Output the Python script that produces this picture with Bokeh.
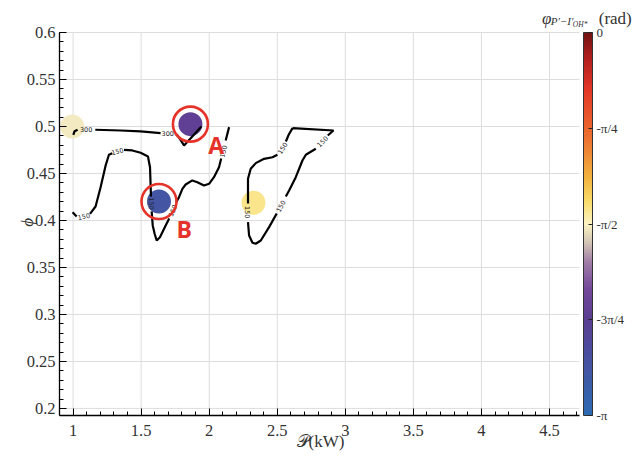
import numpy as np
from bokeh.plotting import figure
from bokeh.models import (LinearColorMapper, ColorBar, FixedTicker, SingleIntervalTicker,
                          NumeralTickFormatter, Label, Range1d, ColumnDataSource)
from bokeh.core.properties import value
from bokeh.embed import file_html
from bokeh.resources import INLINE

nan = float("nan")

# ---------------- data ----------------
# contour "300" (upper), NaN = gap for inline label
c300_x = [1.0015, 1.011, 1.033, nan, 1.163, 1.349, 1.496, 1.643, nan, 1.754, 1.768, 1.815, 1.943]
c300_y = [0.4912, 0.4950, 0.4965, nan, 0.4965, 0.4957, 0.4947, 0.4929, nan, 0.4922, 0.4904, 0.4798, 0.5000]

# contour "150" (left, open)
c150a_x = [0.996, 1.026, nan, 1.124, 1.165, 1.202, 1.239, 1.263, 1.288, nan, 1.374, 1.435, 1.496,
           1.550, 1.565, 1.570, 1.572, nan, 1.577, 1.585, 1.599, 1.614, 1.638, 1.680, 1.706, nan,
           1.757, 1.778, 1.803, 1.827, 1.876, 1.913, 1.962, 1.999, 2.035, 2.072, 2.088, nan,
           2.121, 2.146]
c150a_y = [0.4088, 0.4043, nan, 0.4071, 0.4149, 0.4354, 0.4585, 0.4699, 0.4716, nan, 0.4752, 0.4745,
           0.4720, 0.4681, 0.4567, 0.4354, 0.4255, nan, 0.4096, 0.3947, 0.3859, 0.3787, 0.3822,
           0.3947, 0.4021, nan, 0.4191, 0.4248, 0.4337, 0.4383, 0.4426, 0.4407, 0.4372, 0.4390,
           0.4461, 0.4567, 0.4660, nan, 0.4851, 0.4993]

# contour "150" (right, closed loop)
c150b_x = [2.612, 2.913, 2.871, nan, 2.783, 2.710, 2.685, 2.636, 2.587, 2.563, nan, 2.496, 2.440,
           2.379, 2.342, 2.318, 2.293, 2.285, nan, 2.285, 2.285, 2.305, 2.342, 2.403, 2.465, 2.501,
           nan, 2.563, 2.585, 2.612]
c150b_y = [0.4982, 0.4957, 0.4904, nan, 0.4763, 0.4699, 0.4638, 0.4461, 0.4319, 0.4255, nan, 0.4074,
           0.3929, 0.3787, 0.3752, 0.3763, 0.3840, 0.3982, nan, 0.4181, 0.4444, 0.4550, 0.4610,
           0.4656, 0.4673, 0.4699, nan, 0.4840, 0.4915, 0.4982]

# inline contour labels
lab_text = ["300", "300", "150", "150", "150", "150", "150", "150", "150", "150", "150"]
lab_x = [1.096, 1.695, 1.079, 1.325, 1.574, 1.732, 2.104, 2.832, 2.526, 2.285, 2.538]
lab_y = [0.4963, 0.4926, 0.4043, 0.4737, 0.4178, 0.4106, 0.4734, 0.4840, 0.4152, 0.4088, 0.4769]
lab_angle = [0, 0, 12, 14, -90, 66, 76, 45, 62, -90, 58]

# operating points and their phase (rad)
pt_x = [0.994, 1.862, 1.631, 2.325]
pt_y = [0.5000, 0.5025, 0.4202, 0.4188]
pt_phase = [-1.60, -2.30, -2.75, -1.46]

# highlighted points
ring_x = [1.862, 1.631]
ring_y = [0.5025, 0.4202]
ring_name = ["A", "B"]
ring_tx = [2.051, 1.816]
ring_ty = [0.4798, 0.3904]

# axes
x_min, x_max = 0.90, 4.72
y_min, y_max = 0.1925, 0.6
x_ticks = [1.0, 1.5, 2.0, 2.5, 3.0, 3.5, 4.0, 4.5]
y_ticks = [0.2, 0.25, 0.3, 0.35, 0.4, 0.45, 0.5, 0.55, 0.6]
x_label = "𝒫(kW)"
y_label = "ϕ"

cbar_ticks = [-np.pi, -3 * np.pi / 4, -np.pi / 2, -np.pi / 4, 0.0]
cbar_labels = ["-π", "-3π/4", "-π/2", "-π/4", "0"]

# ---------------- colormap ----------------
anchors = [
    (0.00, "#2c6bb3"), (0.12, "#4355a3"), (0.25, "#5a3e92"), (0.33, "#74489a"),
    (0.40, "#a07ea6"), (0.45, "#d2c3b5"), (0.50, "#fcf4c4"), (0.56, "#f9dc6a"),
    (0.62, "#f3b440"), (0.70, "#ee8033"), (0.75, "#ec652e"), (0.85, "#e33727"),
    (0.93, "#b52121"), (1.00, "#731212"),
]
def _rgb(h):
    return [int(h[i:i + 2], 16) for i in (1, 3, 5)]
a_t = np.array([a[0] for a in anchors])
a_c = np.array([_rgb(a[1]) for a in anchors], dtype=float)
tt = np.linspace(0, 1, 256)
palette = ["#%02x%02x%02x" % tuple(int(round(np.interp(t, a_t, a_c[:, k]))) for k in range(3)) for t in tt]
mapper = LinearColorMapper(palette=palette, low=-np.pi, high=0.0)

# ---------------- figure ----------------
# The frame is extended up and to the right so that the colour-bar title can live inside it;
# the axes are bounded to the real data window.
SERIF = "Liberation Serif"
PX_X, PX_Y = 136.1, 939.9          # pixels per data unit
FW, FH = 573, 412
p = figure(frame_width=FW, frame_height=FH,
           x_range=Range1d(x_min, x_min + FW / PX_X),
           y_range=Range1d(y_min, y_min + FH / PX_Y),
           output_backend="svg", toolbar_location=None,
           min_border_left=59, min_border_right=0, min_border_top=3, min_border_bottom=43)
p.outline_line_color = None
p.background_fill_color = "white"
p.grid.visible = False

p.xaxis.ticker = SingleIntervalTicker(interval=0.5, num_minor_ticks=5)
p.yaxis.ticker = SingleIntervalTicker(interval=0.05, num_minor_ticks=5)
p.xaxis.bounds = (x_min, x_max)
p.yaxis.bounds = (y_min, y_max + 0.0002)
p.xaxis.formatter = NumeralTickFormatter(format="0.[0]")
p.yaxis.formatter = NumeralTickFormatter(format="0.[00]")
for ax in (p.xaxis, p.yaxis):
    ax.axis_line_color = "black"
    ax.axis_line_width = 1.3
    ax.major_tick_line_color = "black"
    ax.minor_tick_line_color = "black"
    ax.major_tick_in = 7
    ax.major_tick_out = 0
    ax.minor_tick_in = 4
    ax.minor_tick_out = 0
    ax.major_label_text_font = SERIF
    ax.major_label_text_font_size = "16.5px"
    ax.major_label_text_color = "#333333"
    ax.axis_label_text_font = SERIF
    ax.axis_label_text_font_size = "17px"
    ax.axis_label_text_color = "#333333"
p.xaxis.major_label_standoff = 9
p.yaxis.major_label_standoff = 4
# em-spaces shift the centred label onto the middle of the data window
p.xaxis.axis_label = x_label + "\u2003\u2003\u2003"
p.xaxis.axis_label_text_font_style = "normal"
p.xaxis.axis_label_standoff = -7
p.yaxis.axis_label = y_label + "\u2003\u2002"
p.yaxis.axis_label_text_font_style = "italic"
p.yaxis.axis_label_standoff = -13

# grid lines limited to the data window
p.segment(x0=x_ticks, y0=[y_min] * len(x_ticks), x1=x_ticks, y1=[y_max] * len(x_ticks),
          line_color="#dddddd", line_width=1)
p.segment(x0=[x_min] * len(y_ticks), y0=y_ticks, x1=[x_max] * len(y_ticks), y1=y_ticks,
          line_color="#dddddd", line_width=1)

# points coloured by phase
src = ColumnDataSource(dict(x=pt_x, y=pt_y, c=pt_phase))
p.scatter("x", "y", source=src, size=24, line_color=None,
          fill_color={"field": "c", "transform": mapper})

# contours
for cx, cy in ((c300_x, c300_y), (c150a_x, c150a_y), (c150b_x, c150b_y)):
    p.line(cx, cy, line_color="black", line_width=2.2)

p.text(x=lab_x, y=lab_y, text=lab_text, angle=lab_angle, angle_units="deg",
       text_font=value("DejaVu Sans"), text_font_size="6.5px", text_color="#222222",
       text_align="center", text_baseline="middle")

RED = "#e5332a"
p.scatter(x=ring_x, y=ring_y, size=35, fill_color=None, line_color=RED, line_width=2.6)
p.text(x=ring_tx, y=ring_ty, text=ring_name, text_font=value("Open Sans"),
       text_font_style="bold", text_font_size="23px", text_color=RED,
       text_align="center", text_baseline="middle")

# colour bar, placed just right of the data window
CB_X = int(round((x_max - x_min) * PX_X)) + 4
CB_H = int(round((y_max - y_min) * PX_Y))
cb = ColorBar(color_mapper=mapper, ticker=FixedTicker(ticks=cbar_ticks),
              major_label_overrides=dict(zip(cbar_ticks, cbar_labels)),
              width=9, height=CB_H, margin=0, padding=0, location=(CB_X, 0),
              bar_line_color="#333333", bar_line_width=1,
              major_tick_line_color="#222222", major_tick_in=4, major_tick_out=0,
              minor_tick_line_color=None,
              major_label_text_font=SERIF, major_label_text_font_size="13px",
              major_label_text_color="#333333", label_standoff=4,
              border_line_color=None, background_fill_color=None)
p.add_layout(cb, "center")

# colour-bar title
for txt, xx, yy, fs, style in [
    ("φ", 4.445, 0.6149, "17px", "italic"),
    ("P′−I′", 4.510, 0.6117, "11px", "italic"),
    ("OH*", 4.672, 0.6085, "7.5px", "italic"),
    ("(rad)", 4.862, 0.6149, "17px", "normal"),
]:
    p.add_layout(Label(x=xx, y=yy, text=txt, text_font=SERIF, text_font_size=fs,
                       text_font_style=style, text_color="#333333",
                       text_baseline="alphabetic", text_align="left"))

open("out.html", "w").write(file_html(p, INLINE))
